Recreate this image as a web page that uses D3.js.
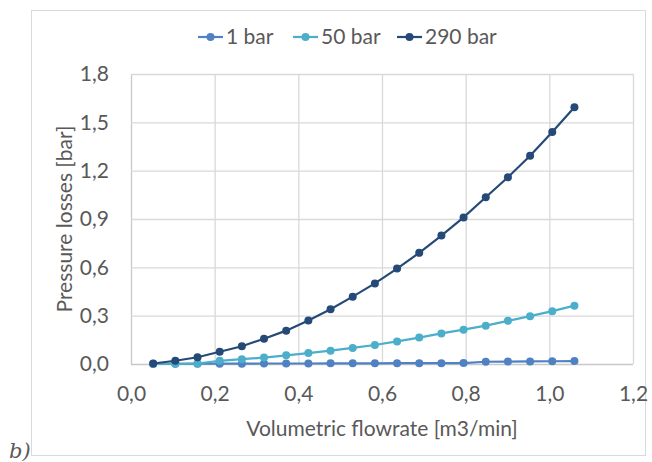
<!DOCTYPE html>
<html>
<head>
<meta charset="utf-8">
<script src="https://cdn.jsdelivr.net/npm/d3@7"></script>
<style>
  body { margin: 0; background: #fff; }
  #graf { width: 652px; height: 462px; }
  text { font-family: Lato, "Open Sans", sans-serif; fill: #595959; }
</style>
</head>
<body>
<div id="graf"></div>
<script>
// flowrate [m3/min]
const flow = [0.053, 0.106, 0.159, 0.212, 0.265, 0.318, 0.371, 0.424, 0.477, 0.530,
  0.583, 0.636, 0.689, 0.742, 0.795, 0.848, 0.901, 0.954, 1.007, 1.060]
// pressure losses [bar]
const p1 = [0.001, 0.001, 0.002, 0.002, 0.002, 0.003, 0.003, 0.003, 0.004, 0.004,
  0.004, 0.005, 0.005, 0.005, 0.006, 0.014, 0.015, 0.016, 0.017, 0.018]
const p50 = [0.000, 0.001, 0.003, 0.020, 0.030, 0.040, 0.054, 0.068, 0.083, 0.100,
  0.118, 0.140, 0.164, 0.190, 0.213, 0.238, 0.268, 0.297, 0.328, 0.362]
const p290 = [0.003, 0.020, 0.042, 0.076, 0.110, 0.157, 0.207, 0.270, 0.340, 0.418,
  0.500, 0.592, 0.690, 0.797, 0.910, 1.035, 1.159, 1.293, 1.440, 1.594]
const xTicks = [0, 0.2, 0.4, 0.6, 0.8, 1.0, 1.2]
const yTicks = [0, 0.3, 0.6, 0.9, 1.2, 1.5, 1.8]

const series = [
  { name: "1 bar", values: p1, color: "#4f81c3" },
  { name: "50 bar", values: p50, color: "#4bafcb" },
  { name: "290 bar", values: p290, color: "#264a78" }
]

const margins = { left: 131, top: 74, right: 19, bottom: 98 }
const anchoTotal = 652
const altoTotal = 462
const ancho = anchoTotal - margins.left - margins.right
const alto = altoTotal - margins.top - margins.bottom
const fs = "21px"

const svg = d3.select("#graf")
  .append("svg")
  .attr("width", anchoTotal)
  .attr("height", altoTotal)

// outer chart frame
svg.append("rect")
  .attr("x", 31.5).attr("y", 10.5)
  .attr("width", 614).attr("height", 445)
  .attr("fill", "none")
  .attr("stroke", "#d9d9d9")

const g = svg.append("g")
  .attr("transform", `translate(${margins.left}, ${margins.top})`)

const x = d3.scaleLinear().domain([0, 1.2]).range([0, ancho])
const y = d3.scaleLinear().domain([0, 1.8]).range([alto, 0])
const fmt = (d) => d3.format(".1f")(d).replace(".", ",")

// grid
const xAxis = d3.axisBottom(x).tickValues(xTicks).tickSize(-alto).tickFormat(fmt).tickPadding(22)
const yAxis = d3.axisLeft(y).tickValues(yTicks).tickSize(-ancho).tickFormat(fmt).tickPadding(22)

const gx = g.append("g").attr("transform", `translate(0, ${alto})`).call(xAxis)
const gy = g.append("g").call(yAxis)
;[gx, gy].forEach((a) => {
  a.select(".domain").remove()
  a.selectAll("line").attr("stroke", "#d9d9d9").attr("stroke-width", 1.3)
  a.selectAll("text").style("font-size", fs).attr("fill", "#595959")
})
gx.selectAll(".tick line").filter((d) => d === 0).attr("stroke", "#c8c8c8")
gy.selectAll(".tick line").filter((d) => d === 0).attr("stroke", "#c8c8c8")

// lines + markers
const line = d3.line().x((d, i) => x(flow[i])).y((d) => y(d))
series.forEach((s) => {
  g.append("path")
    .datum(s.values)
    .attr("fill", "none")
    .attr("stroke", s.color)
    .attr("stroke-width", 2.2)
    .attr("d", line)
  g.selectAll(null)
    .data(s.values)
    .enter()
    .append("circle")
    .attr("cx", (d, i) => x(flow[i]))
    .attr("cy", (d) => y(d))
    .attr("r", 4)
    .attr("fill", s.color)
})

// axis titles
svg.append("text")
  .attr("x", margins.left + ancho / 2)
  .attr("y", 436)
  .attr("text-anchor", "middle")
  .style("font-size", fs)
  .text("Volumetric flowrate [m3/min]")

svg.append("text")
  .attr("transform", `translate(72, ${margins.top + alto / 2}) rotate(-90)`)
  .attr("text-anchor", "middle")
  .style("font-size", fs)
  .text("Pressure losses [bar]")

// legend
const leg = [198, 293, 397]
series.forEach((s, i) => {
  const lg = svg.append("g").attr("transform", `translate(${leg[i]}, 37)`)
  lg.append("line").attr("x1", 0).attr("x2", 25).attr("y1", 0).attr("y2", 0)
    .attr("stroke", s.color).attr("stroke-width", 2.2)
  lg.append("circle").attr("cx", 12.5).attr("cy", 0).attr("r", 4).attr("fill", s.color)
  lg.append("text").attr("x", 28).attr("y", 7).style("font-size", fs).text(s.name)
})

// panel label
svg.append("text")
  .attr("x", 9)
  .attr("y", 458)
  .style("font-family", "'DejaVu Serif', serif")
  .style("font-style", "italic")
  .style("font-size", "21px")
  .attr("fill", "#44546a")
  .text("b)")
</script>
</body>
</html>
